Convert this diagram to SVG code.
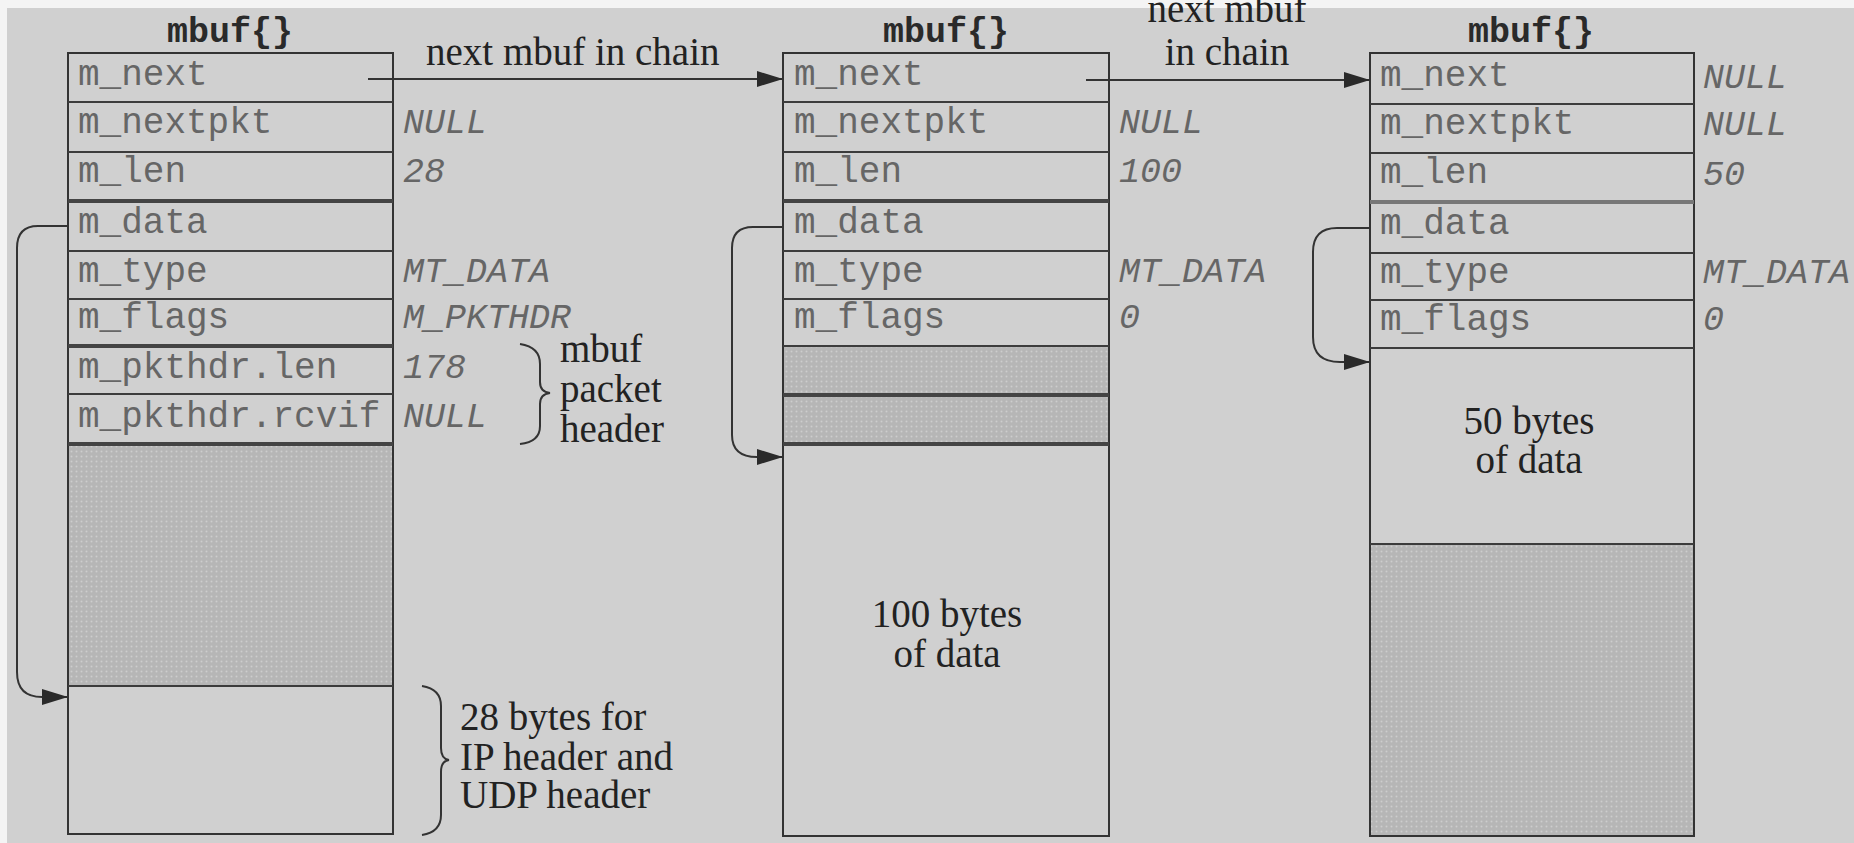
<svg xmlns="http://www.w3.org/2000/svg" width="1854" height="843" viewBox="0 0 1854 843">
<style>
.box{fill:none;stroke:#333;stroke-width:2}
.sep{stroke:#3c3c3c;stroke-width:2}
.thick{stroke:#444;stroke-width:4}
.fld{font-family:"Liberation Mono","DejaVu Sans Mono",monospace;font-size:36px;fill:#666}
.val{font-family:"Liberation Mono","DejaVu Sans Mono",monospace;font-size:35px;font-style:italic;fill:#666}
.ttl{font-family:"Liberation Mono","DejaVu Sans Mono",monospace;font-size:35px;font-weight:bold;fill:#2a2a2a;text-anchor:middle}
.lbl{font-family:"Liberation Serif","DejaVu Serif",serif;font-size:39px;fill:#222}
.mid{text-anchor:middle}
.conn{fill:none;stroke:#333;stroke-width:2}
.brace{fill:none;stroke:#333;stroke-width:2}
.shade{fill:url(#dots)}
</style>
<defs>
<pattern id="dots" width="5" height="5" patternUnits="userSpaceOnUse">
<rect width="5" height="5" fill="#b6b6b6"/>
<circle cx="1.5" cy="1.5" r="1" fill="#cdcdcd"/>
</pattern>
<marker id="arr" markerUnits="userSpaceOnUse" markerWidth="28" markerHeight="18" refX="26" refY="8" orient="auto">
<path d="M0,0 L26,8 L0,16 Z" fill="#2a2a2a"/>
</marker>
</defs>
<rect x="0" y="0" width="1854" height="843" fill="#f4f4f4"/>
<rect x="7" y="8" width="1847" height="835" fill="#d0d0d0"/>

<g id="mbuf1">
<text class="ttl" x="230" y="42">mbuf{}</text>
<rect class="shade" x="68" y="444" width="325" height="242"/>
<rect class="box" x="68" y="53" width="325" height="781"/>
<line class="sep" x1="68" y1="102" x2="393" y2="102"/>
<line class="sep" x1="68" y1="152" x2="393" y2="152"/>
<line class="thick" x1="68" y1="201" x2="393" y2="201"/>
<line class="sep" x1="68" y1="251" x2="393" y2="251"/>
<line class="sep" x1="68" y1="299" x2="393" y2="299"/>
<line class="thick" x1="68" y1="346" x2="393" y2="346"/>
<line class="sep" x1="68" y1="394" x2="393" y2="394"/>
<line class="thick" x1="68" y1="444" x2="393" y2="444"/>
<line class="sep" x1="68" y1="686" x2="393" y2="686"/>
<text class="fld" x="78" y="85">m_next</text>
<text class="fld" x="78" y="133">m_nextpkt</text>
<text class="fld" x="78" y="182">m_len</text>
<text class="fld" x="78" y="233">m_data</text>
<text class="fld" x="78" y="282">m_type</text>
<text class="fld" x="78" y="328">m_flags</text>
<text class="fld" x="78" y="378">m_pkthdr.len</text>
<text class="fld" x="78" y="427">m_pkthdr.rcvif</text>
<text class="val" x="403" y="133">NULL</text>
<text class="val" x="403" y="182">28</text>
<text class="val" x="403" y="282">MT_DATA</text>
<text class="val" x="403" y="328">M_PKTHDR</text>
<text class="val" x="403" y="378">178</text>
<text class="val" x="403" y="427">NULL</text>
</g>

<g id="pkthdr-note">
<path class="brace" d="M520,344 Q540,347 540,364 L540,382 Q540,392 550,393 Q540,394 540,404 L540,426 Q540,442 520,444"/>
<text class="lbl" x="560" y="362">mbuf</text>
<text class="lbl" x="560" y="402">packet</text>
<text class="lbl" x="560" y="442">header</text>
</g>

<g id="hdr-note">
<path class="brace" d="M422,686 Q441,689 441,706 L441,748 Q441,759 449,760 Q441,761 441,772 L441,815 Q441,832 422,835"/>
<text class="lbl" x="460" y="730">28 bytes for</text>
<text class="lbl" x="460" y="770">IP header and</text>
<text class="lbl" x="460" y="808">UDP header</text>
</g>

<g id="mbuf2">
<text class="ttl" x="946" y="42">mbuf{}</text>
<rect class="shade" x="783" y="346" width="326" height="98"/>
<rect class="box" x="783" y="53" width="326" height="783"/>
<line class="sep" x1="783" y1="102" x2="1109" y2="102"/>
<line class="sep" x1="783" y1="152" x2="1109" y2="152"/>
<line class="thick" x1="783" y1="201" x2="1109" y2="201"/>
<line class="sep" x1="783" y1="251" x2="1109" y2="251"/>
<line class="sep" x1="783" y1="299" x2="1109" y2="299"/>
<line class="sep" x1="783" y1="346" x2="1109" y2="346"/>
<line class="thick" x1="783" y1="395" x2="1109" y2="395"/>
<line class="thick" x1="783" y1="444" x2="1109" y2="444"/>
<text class="fld" x="794" y="85">m_next</text>
<text class="fld" x="794" y="133">m_nextpkt</text>
<text class="fld" x="794" y="182">m_len</text>
<text class="fld" x="794" y="233">m_data</text>
<text class="fld" x="794" y="282">m_type</text>
<text class="fld" x="794" y="328">m_flags</text>
<text class="val" x="1119" y="133">NULL</text>
<text class="val" x="1119" y="182">100</text>
<text class="val" x="1119" y="282">MT_DATA</text>
<text class="val" x="1119" y="328">0</text>
<text class="lbl mid" x="947" y="627">100 bytes</text>
<text class="lbl mid" x="947" y="667">of data</text>
</g>

<g id="mbuf3">
<text class="ttl" x="1531" y="42">mbuf{}</text>
<rect class="shade" x="1370" y="544" width="324" height="292"/>
<rect class="box" x="1370" y="53" width="324" height="783"/>
<line class="sep" x1="1370" y1="104" x2="1694" y2="104"/>
<line class="sep" x1="1370" y1="153" x2="1694" y2="153"/>
<line x1="1370" y1="202" x2="1694" y2="202" stroke="#777" stroke-width="4"/>
<line class="sep" x1="1370" y1="253" x2="1694" y2="253"/>
<line class="sep" x1="1370" y1="300" x2="1694" y2="300"/>
<line class="sep" x1="1370" y1="348" x2="1694" y2="348"/>
<line class="sep" x1="1370" y1="544" x2="1694" y2="544"/>
<text class="fld" x="1380" y="86">m_next</text>
<text class="fld" x="1380" y="134">m_nextpkt</text>
<text class="fld" x="1380" y="183">m_len</text>
<text class="fld" x="1380" y="234">m_data</text>
<text class="fld" x="1380" y="283">m_type</text>
<text class="fld" x="1380" y="330">m_flags</text>
<text class="val" x="1703" y="88">NULL</text>
<text class="val" x="1703" y="135">NULL</text>
<text class="val" x="1703" y="185">50</text>
<text class="val" x="1703" y="283">MT_DATA</text>
<text class="val" x="1703" y="330">0</text>
<text class="lbl mid" x="1529" y="434">50 bytes</text>
<text class="lbl mid" x="1529" y="473">of data</text>
</g>

<g id="connectors">
<path class="conn" d="M368,79 L783,79" marker-end="url(#arr)"/>
<text class="lbl" x="426" y="65">next mbuf in chain</text>
<path class="conn" d="M1086,80 L1370,80" marker-end="url(#arr)"/>
<text class="lbl mid" x="1227" y="22">next mbuf</text>
<text class="lbl mid" x="1227" y="65">in chain</text>
<path class="conn" d="M68,226 L38,226 Q17,226 17,248 L17,672 Q17,697 42,697 L68,697" marker-end="url(#arr)"/>
<path class="conn" d="M783,227 L753,227 Q732,227 732,248 L732,435 Q732,457 757,457 L783,457" marker-end="url(#arr)"/>
<path class="conn" d="M1370,228 L1337,228 Q1313,228 1313,252 L1313,337 Q1313,362 1340,362 L1370,362" marker-end="url(#arr)"/>
</g>
</svg>
